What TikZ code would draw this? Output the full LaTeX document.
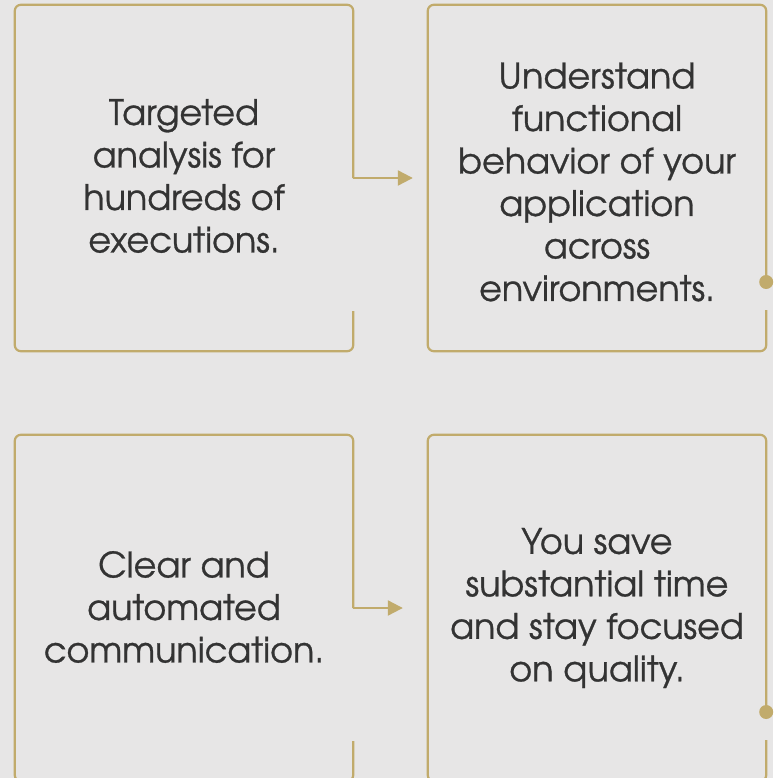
\documentclass[tikz,border=0pt]{standalone}
\usepackage{fontspec}
\setmainfont[FakeBold=0.8]{TeX Gyre Adventor}
\usetikzlibrary{arrows.meta,calc}
\definecolor{bgc}{HTML}{E7E6E6}
\definecolor{gold}{RGB}{193,171,108}
\definecolor{txtc}{HTML}{333333}
\begin{document}
\begin{tikzpicture}[x=1pt,y=-1pt,
  boxnode/.style={rectangle,inner sep=0pt,minimum width=338pt,minimum height=346pt},
  txt/.style={align=center,text=txtc,font=\fontsize{35}{42.5}\selectfont,inner sep=0pt},
  frame/.style={draw=gold,line width=2.2pt,rounded corners=6pt},
  conn/.style={draw=gold,line width=2.2pt,-{Triangle[length=15pt,width=15pt]}},
  dotc/.style={fill=gold}]
\useasboundingbox (0,0) rectangle (773,778);
\clip (0,0) rectangle (773,778);
\fill[bgc] (0,0) rectangle (773,778);

\node[boxnode] (b1) at (184,178) {};
\node[boxnode] (b2) at (597,178) {};
\node[boxnode] (b3) at (184,608) {};
\node[boxnode] (b4) at (597,608) {};

\node[txt] (t1) at (184,176) {Targeted\\analysis for\\hundreds of\\executions.};
\node[txt] (t2) at (597,182) {Understand\\functional\\behavior of your\\application\\across\\environments.};
\node[txt] (t3) at (184,607) {Clear and\\automated\\communication.};
\node[txt] (t4) at (597,608) {You save\\substantial time\\and stay focused\\on quality.};

% box frames with gaps on the right edge
\draw[frame] ([yshift=40pt]b1.south east) -- (b1.south east) -- (b1.south west) -- (b1.north west) -- (b1.north east) -- (b1.east);
\draw[frame] ([yshift=40pt]b3.south east) -- (b3.south east) -- (b3.south west) -- (b3.north west) -- (b3.north east) -- (b3.east);
\coordinate (d2) at ([yshift=-104pt]b2.east);
\coordinate (d4) at ([yshift=-104pt]b4.east);
\draw[frame] ([yshift=41pt]b2.south east) -- (b2.south east) -- (b2.south west) -- (b2.north west) -- (b2.north east) -- (d2);
\draw[frame] ([yshift=41pt]b4.south east) -- (b4.south east) -- (b4.south west) -- (b4.north west) -- (b4.north east) -- (d4);
\fill[dotc] (d2) circle (7pt);
\fill[dotc] (d4) circle (7pt);

% connectors
\draw[conn,shorten >=15pt] (b1.east) -- (b2.west);
\draw[conn,shorten >=25pt] (b3.east) -- (b4.west);
\end{tikzpicture}
\end{document}
